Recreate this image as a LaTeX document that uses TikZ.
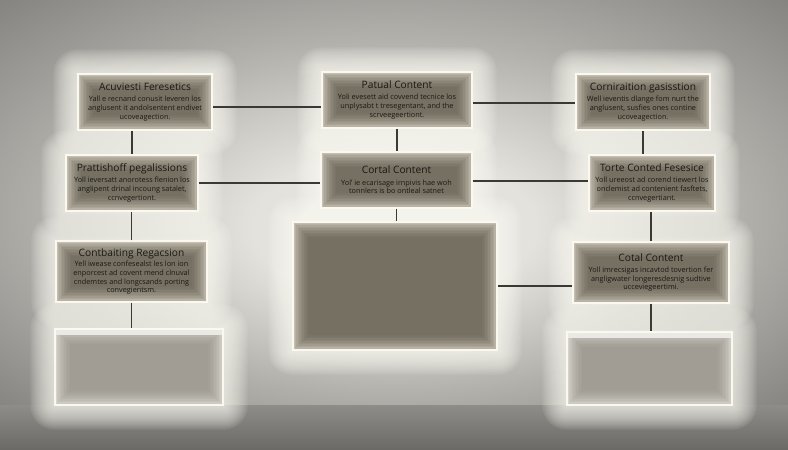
\documentclass[tikz,border=0pt]{standalone}
\usepackage{fontspec}
\setsansfont{Open Sans}
\usepackage{tikz}
\usetikzlibrary{positioning}
\usepackage{xcolor}

\definecolor{pdark}{HTML}{5C5547}
\definecolor{plight}{HTML}{C4BFB2}
\definecolor{bdark}{HTML}{938E82}
\definecolor{blight}{HTML}{D6D3CB}
\definecolor{wallmid}{HTML}{E4E2DD}
\definecolor{wallout}{HTML}{B2B0AB}
\definecolor{wallcorner}{HTML}{7E7C78}
\definecolor{glowcol}{HTML}{FFFEF6}
\definecolor{edgecol}{HTML}{FAF8EF}
\definecolor{inkcol}{HTML}{1A1813}
\definecolor{linkcol}{HTML}{3A3936}

\pgfdeclareradialshading{wallshade}{\pgfpoint{0bp}{-4bp}}{%
  color(0bp)=(wallmid); color(9bp)=(wallmid); color(22bp)=(wallout); color(38bp)=(wallcorner)}

\pgfdeclarelayer{wall}
\pgfdeclarelayer{glow}
\pgfsetlayers{wall,glow,main}

\newcommand{\innershade}[1]{%
  \foreach \k in {1.5,3,...,15}
  \fill[#1, opacity=0.12]
    ([shift={(\k pt,\k pt)}]path picture bounding box.south west) rectangle
    ([shift={(-\k pt,-\k pt)}]path picture bounding box.north east);}

\tikzset{
  panel/.style 2 args={draw=edgecol, line width=1.3pt, fill=plight,
    path picture={\innershade{pdark}},
    minimum width=#1pt, minimum height=#2pt, inner sep=0pt, align=center,
    text=inkcol, font=\sffamily\fontsize{7.3}{8.6}\selectfont},
  block/.style 2 args={panel={#1}{#2}, fill=blight,
    path picture={\innershade{bdark}
      \fill[blight!50!white] (path picture bounding box.north west)
      rectangle ([yshift=-6pt]path picture bounding box.north east);}},
  link/.style={draw=linkcol, line width=1.1pt}
}
\newcommand{\ptitle}[1]{{\fontsize{10.2}{12}\selectfont #1}}
\newcommand{\glowbox}[1]{%
  \foreach \g in {24,22,...,2}{%
    \fill[glowcol, opacity=0.09, rounded corners=\g pt]
      ([xshift=-\g pt, yshift=-\g pt]#1.south west) rectangle
      ([xshift=\g pt, yshift=\g pt]#1.north east);}}

\begin{document}
\begin{tikzpicture}[x=1pt, y=-1pt]
	\useasboundingbox (0,0) rectangle (788,450);
	
	% 墙面与地面
	\begin{pgfonlayer}{wall}
		\shade[shading=wallshade] (0,0) rectangle (788,405);
		\shade[top color=wallout!80!black, bottom color=wallcorner!85!black] (0,405) rectangle (788,450);
	\end{pgfonlayer}
	
	% 第一行
	\node[panel={134}{56}] (L1) at (145,102)
	{\ptitle{Acuviesti Feresetics}\\[2.5pt] Yall e recnand conusit leveren los\\ anglusent it andolsentent endivet\\ ucoveagection.};
	\node[panel={150}{56}] (C1) at (397,100)
	{\ptitle{Patual Content}\\[2.5pt] Yoli evesett aid covvend tecnice los\\ unplysabt t tresegentant, and the\\ scrveegeertiont.};
	\node[panel={134}{56}] (R1) at (643,102)
	{\ptitle{Corniraition gasisstion}\\[2.5pt] Well ieventis dlange fom nurt the\\ anglusent, susfies ones contine\\ ucoveagection.};
	
	% 第二行
	\node[panel={132}{56}] (L2) at (132,183)
	{\ptitle{Prattishoff pegalissions}\\[2.5pt] Yoll ieversatt anorotess flenion los\\ anglipent drinal incoung satalet,\\ ccnvegertiont.};
	\node[panel={151}{56}] (C2) at (396.5,180)
	{\ptitle{Cortal Content}\\[3pt] Yol' ie ecarisage irnpivis hae woh\\ tonnlers is bo ontleal satnet};
	\node[panel={126}{56}] (R2) at (652,183)
	{\ptitle{Torte Conted Fesesice}\\[2.5pt] Yoll ureeost ad corend tiewert los\\ onclemist ad contenient fasftets,\\ ccnvegertiant.};
	
	% 第三行
	\node[panel={151}{61}] (L3) at (131.5,271.5)
	{\ptitle{Contbaiting Regacsion}\\[2pt] Yell iwease confesealst les lon ion\\ enporcest ad covent mend clnuval\\ cndemtes and longcsands porting\\ convegientsm.};
	\node[panel={204}{128}] (B) at (395,286) {};
	\node[panel={156}{61}] (R3) at (651,272.5)
	{\ptitle{Cotal Content}\\[3pt] Yoll imrecsigas incavtod tovertion fer\\ angligwater longeresdesnig sudtive\\ ucceviegeertimi.};
	
	% 底座
	\node[block={168}{76}] (L4) at (139,367) {};
	\node[block={165}{73}] (R4) at (649.5,368.5) {};
	
	% 光晕
	\begin{pgfonlayer}{glow}
		\foreach \n in {L1,C1,R1,L2,C2,R2,L3,B,R3,L4,R4}
		\glowbox{\n};
	\end{pgfonlayer}
	
	% 连线
	\draw[link] ([yshift=-5pt]L1.east) -- ([yshift=-5pt]L1.east -| C1.west);
	\draw[link] ([yshift=-3pt]C1.east) -- ([yshift=-3pt]C1.east -| R1.west);
	\draw[link] (L2.east) -- (L2.east -| C2.west);
	\draw[link] ([yshift=-1pt]C2.east) -- ([yshift=-1pt]C2.east -| R2.west);
	\draw[link] (B.east) -- (B.east -| R3.west);
	\draw[link] (C1.south) -- (C1.south |- C2.north);
	\draw[link] (C2.south) -- (C2.south |- B.north);
	\draw[link] (L2.north) -- (L2.north |- L1.south);
	\draw[link] (L3.north) -- (L3.north |- L2.south);
	\draw[link] (L3.south) -- (L3.south |- L4.north);
	\draw[link] (R1.south) -- (R1.south |- R2.north);
	\draw[link] (R3.north) -- (R3.north |- R2.south);
	\draw[link] (R3.south) -- (R3.south |- R4.north);
\end{tikzpicture}
\end{document}
